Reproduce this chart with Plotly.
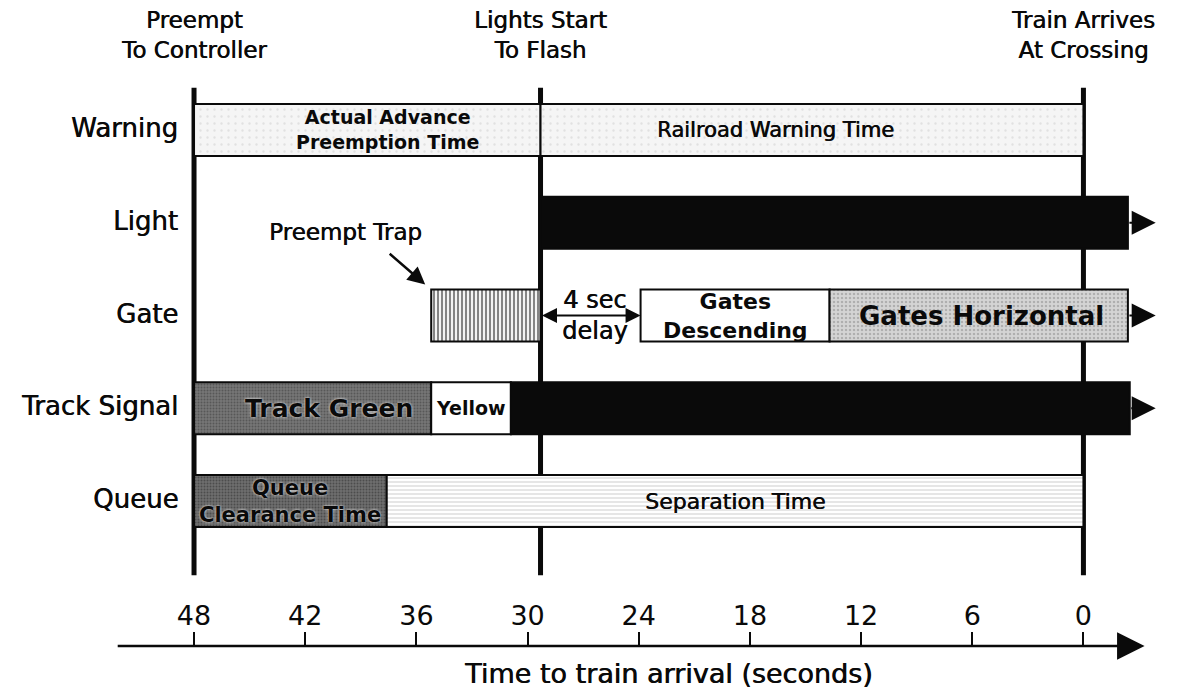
import plotly.graph_objects as go

# ---- data -------------------------------------------------------------
ROWS = ["Warning", "Light", "Gate", "Track Signal", "Queue"]

# key moments on the time axis (seconds before the train arrives)
EVENT_TIMES = [48, 29.3, 0]
EVENT_LABELS = ["Preempt<br>To Controller", "Lights Start<br>To Flash", "Train Arrives<br>At Crossing"]

# one entry per drawn interval
SEG_ROW = ["Warning", "Warning", "Light", "Gate", "Gate", "Gate",
           "Track Signal", "Track Signal", "Track Signal", "Queue", "Queue"]
SEG_START = [48, 29.3, 29.3, 35.2, 23.9, 13.7, 48, 35.2, 30.9, 48, 37.6]
SEG_END = [29.3, 0, -2.4, 29.3, 13.7, -2.4, 35.2, 30.9, -2.5, 37.6, 0]
SEG_TEXT = ["Actual Advance<br>Preemption Time", "Railroad Warning Time", "",
            "", "Gates<br>Descending", "Gates Horizontal",
            "Track Green", "Yellow", "", "Queue<br>Clearance Time", "Separation Time"]

ONGOING_ROWS = ["Light", "Gate", "Track Signal"]   # states that carry on past arrival
ONGOING_TIP = -3.9

DELAY_FROM, DELAY_TO = 29.3, 23.9
DELAY_TEXT = "4 sec<br>delay"
TRAP_TEXT = "Preempt Trap"
TRAP_TIME = 35.2

TICKS = [48, 42, 36, 30, 24, 18, 12, 6, 0]
AXIS_FROM, AXIS_TO = 52.2, -3.3
AXIS_TITLE = "Time to train arrival (seconds)"

# ---- styles -----------------------------------------------------------
FONT = "DejaVu Sans"
INK = "#0a0a0a"
HEAVY = "0.6px 0px 0px #0a0a0a"   # thickens regular text a little, like the print

def dots(bg, fg, size, solidity):
    return dict(shape=".", bgcolor=bg, fgcolor=fg, size=size, solidity=solidity, fillmode="overlay")

def txtfont(size, heavy=True):
    f = dict(size=size, color=INK, family=FONT)
    if heavy:
        f["shadow"] = HEAVY
    return f

SEG_STYLE = [
    dict(color="#f5f5f5", pattern=dots("#f5f5f5", "#cdcdcd", 7, 0.1)),
    dict(color="#f5f5f5", pattern=dots("#f5f5f5", "#cdcdcd", 7, 0.1)),
    dict(color=INK),
    dict(color="white", pattern=dict(shape="|", bgcolor="white", fgcolor=INK, size=4, solidity=0.55, fillmode="overlay")),
    dict(color="white"),
    dict(color="#d4d4d4", pattern=dots("#d4d4d4", "#8a8a8a", 4, 0.3)),
    dict(color="#767676", pattern=dots("#767676", "#383838", 3, 0.35)),
    dict(color="white"),
    dict(color=INK),
    dict(color="#6e6e6e", pattern=dots("#6e6e6e", "#2a2a2a", 3, 0.35)),
    dict(color="white", pattern=dict(shape="-", bgcolor="white", fgcolor="#9a9a9a", size=4, solidity=0.25, fillmode="overlay")),
]
# text look per interval: (size, bold, xshift, halo)
TEXT_STYLE = [
    (19, True, 20, False), (21, False, -36, False), (0, False, 0, False),
    (0, False, 0, False), (22, True, 0, False), (26, True, 3, False),
    (25, True, 16, True), (19, True, 0, False), (0, False, 0, False),
    (21, True, 0, True), (22, False, 0, False),
]

fig = go.Figure()

for i, row in enumerate(SEG_ROW):
    st = SEG_STYLE[i]
    fig.add_trace(go.Bar(
        y=[row], base=[SEG_START[i]], x=[SEG_END[i] - SEG_START[i]], orientation="h",
        width=0.56, marker=dict(color=st["color"], pattern=st.get("pattern"),
                                line=dict(color=INK, width=2)),
        showlegend=False, hoverinfo="skip",
    ))

shapes = []
for t in EVENT_TIMES:
    shapes.append(dict(type="line", layer="below", xref="x", yref="paper",
                       x0=t, x1=t, y0=0.111, y1=0.875, line=dict(color=INK, width=5)))

ann = []
# event labels across the top
for t, lab in zip(EVENT_TIMES, EVENT_LABELS):
    ann.append(dict(x=t, y=1, xref="x", yref="paper", yanchor="top", yshift=3, text=lab,
                    showarrow=False, font=txtfont(23)))

# row labels
for row in ROWS:
    ann.append(dict(x=EVENT_TIMES[0], y=row, xref="x", yref="y", text=row, showarrow=False,
                    xanchor="right", xshift=-14, yshift=2, font=txtfont(26)))

# labels inside the intervals
for i, txt in enumerate(SEG_TEXT):
    if not txt:
        continue
    size, bold, dx, halo = TEXT_STYLE[i]
    f = txtfont(size, heavy=not bold)
    if halo:
        f["shadow"] = "0px 0px 3px white"
    ann.append(dict(x=(SEG_START[i] + SEG_END[i]) / 2, y=SEG_ROW[i], xref="x", yref="y",
                    text=f"<b>{txt}</b>" if bold else txt, showarrow=False, xshift=dx,
                    font=f))

# arrows for states that continue after the train arrives
for row in ONGOING_ROWS:
    end = min(e for r, e in zip(SEG_ROW, SEG_END) if r == row)
    ann.append(dict(x=ONGOING_TIP, y=row, xref="x", yref="y", ax=end, axref="x", ay=0,
                    ayref="pixel", text="", showarrow=True, arrowhead=2, arrowsize=2.4,
                    arrowwidth=2, arrowcolor=INK, standoff=0, startstandoff=0))

# 4 second delay double arrow
ann.append(dict(x=DELAY_TO, y="Gate", xref="x", yref="y", ax=DELAY_FROM, axref="x", ay=0,
                ayref="pixel", text="", showarrow=True, arrowhead=2, startarrowhead=2,
                arrowside="end+start", arrowsize=1.5, startarrowsize=1.5, arrowwidth=2,
                arrowcolor=INK))
ann.append(dict(x=(DELAY_FROM + DELAY_TO) / 2, y="Gate", xref="x", yref="y", text=DELAY_TEXT,
                showarrow=False, xshift=4, font=txtfont(24)))

# preempt trap callout
ann.append(dict(x=TRAP_TIME, y="Gate", xref="x", yref="y", xshift=-6, yshift=31,
                ax=-37, ay=-32, text="", showarrow=True, arrowhead=2, arrowsize=1.4,
                arrowwidth=2.5, arrowcolor=INK))
ann.append(dict(x=TRAP_TIME, y="Gate", xref="x", yref="y", xshift=-86, yshift=84,
                text=TRAP_TEXT, showarrow=False, font=txtfont(23)))

# time axis line with arrowhead
ann.append(dict(x=AXIS_TO, y=0, xref="x", yref="paper", ax=AXIS_FROM, axref="x", ay=0,
                text="", showarrow=True, arrowhead=2, arrowsize=2.2, arrowwidth=2.5,
                arrowcolor=INK, standoff=0))
ann.append(dict(x=0.565, y=0, xref="paper", yref="paper", yanchor="middle", yshift=-27,
                text=AXIS_TITLE, showarrow=False, font=txtfont(27)))

fig.update_layout(
    width=1169, height=682,
    margin=dict(l=0, r=0, t=0, b=44),
    paper_bgcolor="white", plot_bgcolor="white",
    font=dict(family=FONT, color=INK),
    barmode="overlay",
    shapes=shapes, annotations=ann,
    xaxis=dict(
        range=[58.04, -5.05], showgrid=False, zeroline=False, showline=False,
        tickmode="array", tickvals=TICKS, ticktext=[str(t) for t in TICKS],
        ticks="inside", ticklen=14, tickwidth=2, tickcolor=INK,
        ticklabelposition="inside", ticklabelstandoff=4, tickfont=txtfont(27, heavy=False),
    ),
    yaxis=dict(
        type="category", categoryorder="array", categoryarray=list(reversed(ROWS)),
        range=[-1.563, 5.315], showgrid=False, zeroline=False, showline=False,
        showticklabels=False, ticks="",
    ),
)

fig.write_html("out.html")
